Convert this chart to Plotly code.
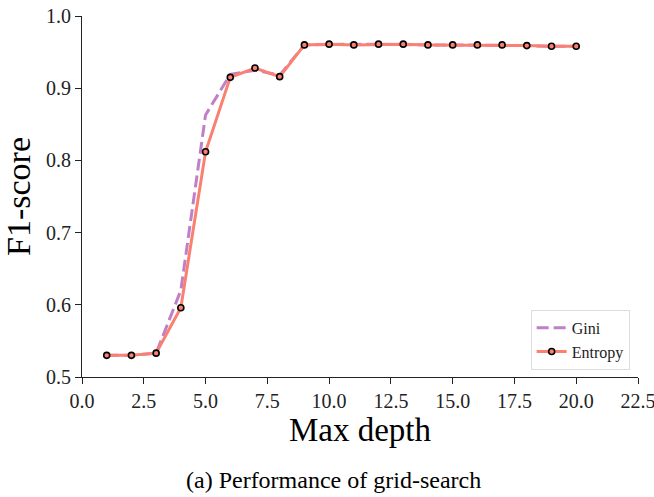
import plotly.graph_objects as go

depth = list(range(1, 21))
gini = [0.530, 0.530, 0.533, 0.620, 0.863, 0.919, 0.925, 0.918, 0.960, 0.961,
        0.961, 0.961, 0.960, 0.960, 0.960, 0.960, 0.960, 0.959, 0.958, 0.958]
entropy = [0.530, 0.530, 0.533, 0.596, 0.812, 0.915, 0.928, 0.916, 0.960, 0.961,
           0.960, 0.961, 0.961, 0.960, 0.960, 0.960, 0.960, 0.959, 0.958, 0.958]
xticks = [0.0, 2.5, 5.0, 7.5, 10.0, 12.5, 15.0, 17.5, 20.0, 22.5]
yticks = [0.5, 0.6, 0.7, 0.8, 0.9, 1.0]

font = "Liberation Serif"

fig = go.Figure()
fig.add_trace(go.Scatter(x=depth, y=gini, mode="lines", name="Gini",
                         line=dict(color="#bf80c8", width=3, dash="12px,5px")))
fig.add_trace(go.Scatter(x=depth, y=entropy, mode="lines+markers", name="Entropy",
                         line=dict(color="#fa8072", width=3),
                         marker=dict(color="#fa8072", size=6,
                                     line=dict(color="black", width=1.6))))

fig.update_layout(
    width=654, height=497,
    margin=dict(l=82, r=16, t=16, b=120, autoexpand=False),
    plot_bgcolor="white", paper_bgcolor="white",
    font=dict(family=font, size=20, color="#222"),
    showlegend=True,
    legend=dict(x=0.985, y=0.02, xanchor="right", yanchor="bottom",
                bgcolor="rgba(255,255,255,0.8)", bordercolor="#dddddd", borderwidth=1,
                font=dict(size=16, family=font, color="#222"), tracegroupgap=0),
    xaxis=dict(range=[0, 22.5], tickvals=xticks,
               ticktext=[f"{v:.1f}" for v in xticks], automargin=False,
               ticklabeloverflow="allow",
               tickfont=dict(family=font, size=20, color="#222"),
               showgrid=False, zeroline=False, showline=True, linecolor="#222",
               linewidth=1, ticks="outside", ticklen=6, tickcolor="#222",
               title=dict(text="Max depth", font=dict(size=33, family=font, color="black"),
                          standoff=5)),
    yaxis=dict(range=[0.5, 1.0], tickvals=yticks,
               ticktext=[f"{v:.1f}" for v in yticks], automargin=False,
               ticklabeloverflow="allow",
               tickfont=dict(family=font, size=20, color="#222"),
               showgrid=False, zeroline=False, showline=True, linecolor="#222",
               linewidth=1, ticks="outside", ticklen=6, tickcolor="#222",
               title=dict(text="F1-score", font=dict(size=34, family=font, color="black"),
                          standoff=6)),
    annotations=[dict(text="(a) Performance of grid-search", xref="paper", yref="paper",
                      x=(333 - 82) / 556, y=-(480 - 377) / 361, xanchor="center",
                      yanchor="middle", showarrow=False,
                      font=dict(size=24, family=font, color="black"))],
)

fig.write_html("out.html")
